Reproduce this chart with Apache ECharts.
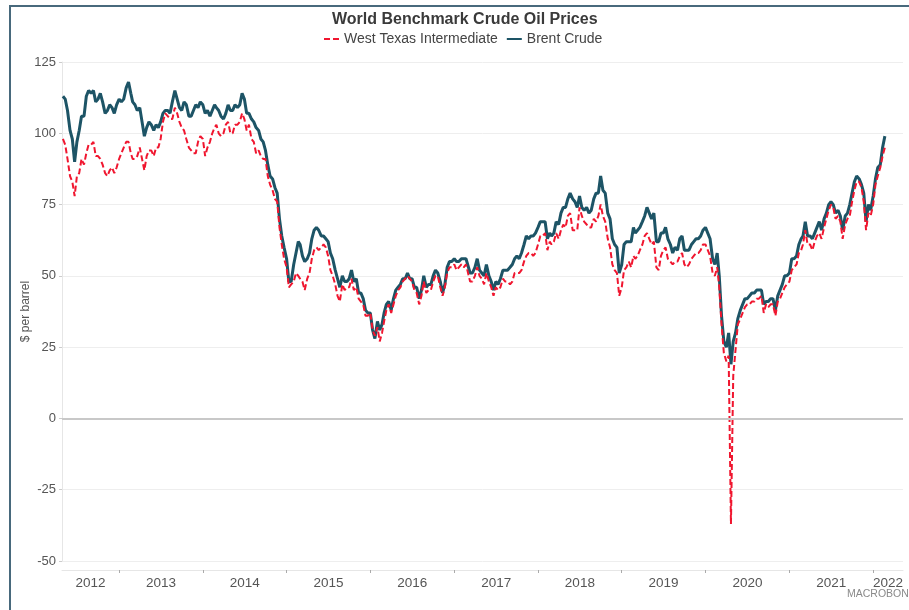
<!DOCTYPE html>
<html>
<head>
<meta charset="utf-8">
<title>World Benchmark Crude Oil Prices</title>
<script src="https://cdn.jsdelivr.net/npm/echarts@6/dist/echarts.min.js"></script>
<style>
	html, body { margin: 0; padding: 0; background: #fff; }
	#frame { position: absolute; left: 9px; top: 5px; width: 900px; height: 605px; border-top: 2px solid #48697c; border-left: 2px solid #48697c; }
	#chart { position: absolute; left: 0; top: 0; width: 909px; height: 610px; }
</style>
</head>
<body>
<div id="frame"></div>
<div id="chart"></div>
<script>
// sampled on the 1st, 11th and 21st of every month, May 2012 - Feb 2022
var sampleDays = [1, 11, 21];
var firstSample = [2012, 4];
var lastSample = [2022, 1];

var years = ['2012', '2013', '2014', '2015', '2016', '2017', '2018', '2019', '2020', '2021', '2022'];

// $ per barrel, one row per year
var brent = [
	113, 112, 108, 101, 98, 90, 97, 101, 106, 106, 113, 115, 114, 115, 111, 112, 114, 111, 107, 108, 110, 109, 107, 110,
	112, 111, 112, 116, 118, 114, 111, 110, 108, 109, 104, 99, 102, 104, 103, 101, 103, 102, 104, 107, 108, 108, 107, 111, 115, 112, 109, 108, 111, 110, 106, 106, 108, 110, 109, 111,
	110, 107, 108, 106, 108, 110, 109, 108, 106, 105, 107, 110, 108, 108, 110, 109, 110, 114, 112, 107, 107, 105, 104, 102, 101, 98, 97, 94, 89, 85, 84, 81, 79, 70, 64, 60,
	56, 48, 48, 54, 58, 62, 61, 57, 55, 56, 58, 63, 66, 67, 66, 64, 64, 63, 62, 58, 56, 52, 49, 46, 50, 48, 48, 49, 52, 48, 49, 44, 44, 42, 38, 37,
	37, 31, 28, 34, 31, 33, 37, 40, 41, 38, 42, 45, 46, 47, 49, 49, 51, 49, 49, 46, 46, 42, 45, 50, 46, 47, 47, 50, 52, 51, 48, 44, 47, 53, 55, 55,
	56, 55, 55, 56, 56, 56, 56, 51, 51, 53, 56, 52, 51, 50, 54, 50, 48, 45, 48, 47, 49, 52, 52, 52, 53, 54, 56, 57, 56, 58, 61, 64, 63, 64, 64, 65,
	67, 69, 69, 69, 63, 65, 64, 65, 69, 68, 72, 74, 74, 77, 79, 77, 76, 74, 78, 74, 73, 74, 72, 73, 77, 79, 79, 85, 80, 79, 72, 70, 63, 61, 60, 51,
	54, 61, 62, 62, 62, 67, 65, 66, 67, 69, 71, 74, 72, 70, 72, 62, 62, 65, 65, 67, 63, 61, 58, 60, 59, 63, 64, 59, 59, 59, 61, 62, 63, 63, 64, 66,
	67, 65, 63, 56, 54, 58, 50, 36, 27, 25, 30, 19, 27, 30, 35, 38, 40, 42, 42, 43, 44, 44, 45, 45, 45, 40, 41, 41, 42, 42, 38, 43, 45, 47, 50, 50,
	51, 56, 56, 57, 61, 63, 64, 69, 64, 64, 63, 65, 67, 69, 66, 70, 72, 75, 76, 75, 72, 73, 71, 66, 71, 72, 75, 79, 83, 85, 84, 82, 79, 69, 75, 73,
	78, 84, 88, 89, 95, 99
];

var wti = [
	98, 96, 91, 85, 83, 78, 85, 86, 91, 89, 93, 96, 96, 97, 92, 92, 91, 89, 86, 85, 87, 88, 86, 88,
	91, 93, 95, 97, 97, 93, 91, 91, 92, 95, 91, 87, 92, 94, 94, 92, 95, 95, 98, 104, 107, 106, 105, 105, 109, 107, 104, 102, 101, 98, 95, 94, 93, 93, 97, 99,
	98, 92, 95, 97, 100, 102, 103, 100, 99, 100, 103, 104, 100, 100, 103, 103, 104, 107, 105, 101, 103, 98, 97, 93, 94, 92, 91, 91, 85, 82, 80, 77, 76, 67, 61, 56,
	53, 46, 47, 48, 51, 50, 49, 48, 45, 49, 51, 56, 59, 60, 59, 60, 61, 60, 57, 52, 50, 47, 43, 41, 47, 45, 46, 46, 49, 45, 46, 42, 41, 40, 36, 36,
	37, 31, 29, 32, 27, 30, 34, 38, 40, 37, 40, 43, 45, 46, 48, 49, 50, 49, 48, 45, 44, 40, 43, 48, 44, 45, 45, 48, 50, 50, 46, 43, 46, 51, 53, 53,
	54, 52, 53, 54, 53, 54, 54, 48, 48, 50, 53, 50, 49, 47, 51, 48, 46, 43, 46, 45, 46, 49, 48, 48, 47, 48, 51, 51, 51, 52, 55, 57, 58, 58, 57, 58,
	61, 64, 64, 65, 59, 62, 61, 62, 65, 63, 66, 68, 67, 71, 72, 66, 66, 66, 74, 71, 69, 68, 67, 67, 70, 69, 71, 75, 71, 69, 63, 60, 54, 52, 51, 43,
	46, 52, 53, 55, 53, 57, 56, 57, 59, 61, 64, 65, 63, 61, 62, 53, 52, 57, 59, 60, 56, 55, 54, 55, 55, 57, 58, 54, 53, 54, 56, 57, 58, 58, 59, 61,
	61, 59, 57, 51, 50, 53, 46, 33, 23, 20, 22, -37, 15, 24, 33, 35, 37, 39, 40, 40, 41, 41, 42, 42, 43, 37, 40, 39, 40, 40, 36, 41, 42, 44, 46, 47,
	48, 52, 53, 54, 58, 59, 61, 66, 61, 61, 59, 62, 64, 65, 63, 67, 70, 73, 75, 74, 70, 71, 69, 63, 68, 70, 71, 76, 80, 83, 83, 81, 76, 66, 72, 71,
	75, 82, 85, 88, 92, 95
];

var xMin = +new Date(2012, 3, 27);
var xMax = +new Date(2022, 4, 11);

function buildDates() {
	var list = [],
		y = firstSample[0],
		m = firstSample[1];
	while(y < lastSample[0] || (y == lastSample[0] && m <= lastSample[1])) {
		for(var i = 0; i < sampleDays.length; i++) {
			list.push(+new Date(y, m, sampleDays[i]));
		}
		m++;
		if(m > 11) {
			m = 0;
			y++;
		}
	}
	return list;
}

function pairUp(dates, values) {
	var out = [];
	for(var i = 0; i < values.length; i++) {
		out.push([dates[i], values[i]]);
	}
	return out;
}

var dates = buildDates();

//年份分界刻度 + 居中的年份标签
var tickValues = [],
	labelValues = [];
for(var i = 0; i < years.length; i++) {
	var start = +new Date(+years[i], 0, 1),
		end = +new Date(+years[i] + 1, 0, 1);
	if(i > 0) tickValues.push(start);
	labelValues.push((Math.max(start, xMin) + Math.min(end, xMax)) / 2);
}

var textColor = '#555';
var font = 'Liberation Sans, Arial, sans-serif';

var option = {
	animation: false,
	title: {
		text: 'World Benchmark Crude Oil Prices',
		left: 332,
		top: 12,
		padding: 0,
		textStyle: {
			fontFamily: font,
			fontSize: 16,
			fontWeight: 'bold',
			color: '#3a3a3a'
		}
	},
	legend: {
		top: 32,
		left: 323,
		padding: 0,
		itemGap: 8,
		itemWidth: 15,
		itemHeight: 10,
		data: ['West Texas Intermediate', 'Brent Crude'],
		itemStyle: {
			opacity: 0
		},
		textStyle: {
			fontFamily: font,
			fontSize: 14,
			color: '#444'
		}
	},
	grid: {
		left: 62,
		right: 6,
		top: 62,
		bottom: 49
	},
	xAxis: {
		type: 'value',
		min: xMin,
		max: xMax,
		offset: 9,
		axisLine: {
			onZero: false,
			lineStyle: {
				color: '#e6e6e6'
			}
		},
		axisTick: {
			show: true,
			length: 3,
			customValues: tickValues,
			lineStyle: {
				color: '#aaa'
			}
		},
		axisLabel: {
			customValues: labelValues,
			formatter: function(v) {
				return String(new Date(v).getFullYear());
			},
			margin: 6,
			color: textColor,
			fontFamily: font,
			fontSize: 13.5
		},
		splitLine: {
			show: false
		}
	},
	yAxis: {
		type: 'value',
		min: -50,
		max: 125,
		interval: 25,
		name: '$ per barrel',
		nameLocation: 'middle',
		nameGap: 30,
		nameMoveOverlap: false,
		nameTextStyle: {
			fontFamily: font,
			fontSize: 12,
			color: textColor
		},
		axisLine: {
			show: true,
			lineStyle: {
				color: '#e6e6e6'
			}
		},
		axisTick: {
			show: true,
			length: 3,
			lineStyle: {
				color: '#ccc'
			}
		},
		axisLabel: {
			margin: 6,
			color: textColor,
			fontFamily: font,
			fontSize: 13
		},
		splitLine: {
			lineStyle: {
				color: '#eeeeee'
			}
		}
	},
	series: [{
		name: 'Brent Crude',
		type: 'line',
		symbol: 'none',
		z: 2,
		data: pairUp(dates, brent),
		lineStyle: {
			color: '#1d5466',
			width: 3
		},
		itemStyle: {
			color: '#1d5466'
		},
		markLine: {
			silent: true,
			symbol: ['none', 'none'],
			label: {
				show: false
			},
			lineStyle: {
				color: '#c8c8c8',
				width: 2,
				type: 'solid'
			},
			data: [{
				yAxis: 0
			}]
		}
	}, {
		name: 'West Texas Intermediate',
		type: 'line',
		symbol: 'none',
		z: 3,
		data: pairUp(dates, wti),
		lineStyle: {
			color: '#f0162f',
			width: 2,
			type: [6, 3]
		},
		itemStyle: {
			color: '#f0162f'
		}
	}],
	graphic: [{
		type: 'text',
		left: 847,
		top: 589,
		silent: true,
		style: {
			text: 'MACROBOND',
			fill: '#8a8a8a',
			font: '10.5px Liberation Sans, Arial, sans-serif'
		}
	}]
};

var chart = echarts.init(document.getElementById('chart'), null, { renderer: 'canvas' });
chart.setOption(option);
</script>
</body>
</html>
